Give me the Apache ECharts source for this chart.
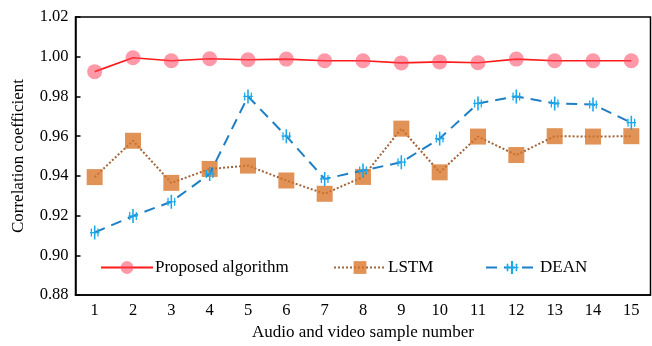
<!DOCTYPE html>
<html>
<head>
<meta charset="utf-8">
<script src="https://cdn.jsdelivr.net/npm/echarts@6/dist/echarts.min.js"></script>
<style>
html,body{margin:0;padding:0;background:#fff;}
#chart{width:652px;height:346px;}
</style>
</head>
<body>
<div id="chart"></div>
<script>
var categories = ['1','2','3','4','5','6','7','8','9','10','11','12','13','14','15'];
var proposed = [0.9925, 0.9995, 0.998, 0.999, 0.9985, 0.9988, 0.998, 0.998, 0.9969, 0.9974, 0.997, 0.9988, 0.998, 0.998, 0.998];
var lstm = [0.9394, 0.9577, 0.9365, 0.9435, 0.9452, 0.9377, 0.931, 0.9395, 0.9638, 0.9418, 0.9598, 0.9505, 0.960, 0.9598, 0.960];
var dean = [0.9115, 0.9198, 0.927, 0.941, 0.980, 0.960, 0.9385, 0.9427, 0.9469, 0.9588, 0.9765, 0.980, 0.9765, 0.976, 0.9668];
var seriesNames = ['Proposed algorithm', 'LSTM', 'DEAN'];

var FONT = '"Liberation Serif","Times New Roman",serif';
var deanSymbol = 'path://M5,0 L7,0 L7,14 L5,14 Z M1,3 L2.6,3 L2.6,11 L1,11 Z M9.4,3 L11,3 L11,11 L9.4,11 Z M0,6.4 L12,6.4 L12,7.6 L0,7.6 Z';

var chart = echarts.init(document.getElementById('chart'));
function legendAt(name, left) {
  return {
    data: [name],
    left: left,
    top: 259,
    itemWidth: 52,
    itemHeight: 16,
    padding: 0,
    textStyle: {fontFamily: FONT, fontSize: 17, color: '#000', padding: [0, 0, 0, -3]}
  };
}
chart.setOption({
  animation: false,
  grid: {left: 75.5, right: 1.5, top: 17, bottom: 48, show: true, borderColor: '#000', borderWidth: 1.5},
  legend: [legendAt(seriesNames[0], 100), legendAt(seriesNames[1], 333), legendAt(seriesNames[2], 485)],
  xAxis: {
    type: 'category',
    data: categories,
    boundaryGap: true,
    name: 'Audio and video sample number',
    nameLocation: 'middle',
    nameGap: 26,
    nameTextStyle: {fontFamily: FONT, fontSize: 17, color: '#000'},
    axisLine: {lineStyle: {color: '#000', width: 1.5}},
    axisTick: {inside: true, length: 5, lineStyle: {color: '#000', width: 1.5}},
    axisLabel: {fontFamily: FONT, fontSize: 16.5, color: '#000', margin: 7}
  },
  yAxis: {
    type: 'value',
    min: 0.88,
    max: 1.02,
    interval: 0.02,
    name: 'Correlation coefficient',
    nameLocation: 'middle',
    nameGap: 48,
    nameTextStyle: {fontFamily: FONT, fontSize: 17, color: '#000'},
    axisLine: {show: true, lineStyle: {color: '#000', width: 1.5}},
    axisTick: {show: true, inside: true, length: 5, lineStyle: {color: '#000', width: 1.5}},
    splitLine: {show: false},
    axisLabel: {fontFamily: FONT, fontSize: 16.5, color: '#000', margin: 7,
      formatter: function (v) { return v.toFixed(2); }}
  },
  series: [
    {
      name: seriesNames[0], type: 'line', data: proposed,
      symbol: 'circle', symbolSize: 15,
      lineStyle: {color: '#ff1a1a', width: 1.6, type: 'solid'},
      itemStyle: {color: 'rgba(255,70,95,0.55)', borderWidth: 0},
      z: 4
    },
    {
      name: seriesNames[1], type: 'line', data: lstm,
      symbol: 'rect', symbolSize: 16,
      lineStyle: {color: '#a0633a', width: 2, type: [2, 2]},
      itemStyle: {color: 'rgba(215,115,40,0.78)', borderWidth: 0},
      z: 3
    },
    {
      name: seriesNames[2], type: 'line', data: dean,
      symbol: deanSymbol, symbolSize: [11, 14], symbolKeepAspect: true,
      lineStyle: {color: '#1f7fc4', width: 2, type: [11, 7]},
      itemStyle: {color: '#1aa8ea', borderWidth: 0},
      z: 5
    }
  ]
});
</script>
</body>
</html>
